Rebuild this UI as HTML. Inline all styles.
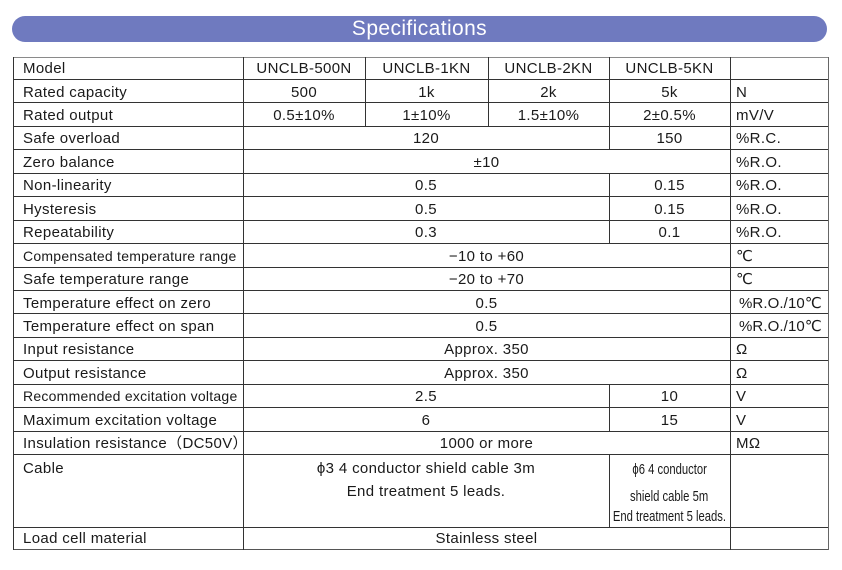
<!DOCTYPE html>
<html>
<head>
<meta charset="utf-8">
<style>
html,body{margin:0;padding:0;background:#fff;}
body{width:842px;height:570px;position:relative;overflow:hidden;font-family:"Liberation Sans","DejaVu Sans","Noto Sans CJK SC",sans-serif;color:#1a1a1a;}
.bar{position:absolute;left:12px;top:16px;width:815px;height:26px;border-radius:13px;background:#6f7abf;}
.bar span{position:absolute;left:0;right:0;top:0;height:26px;line-height:26px;text-align:center;color:#fff;font-size:21px;letter-spacing:0.4px;}
.h{position:absolute;left:13px;width:816px;height:1px;background:#333;}
.v{position:absolute;width:1px;background:#333;}
.t{position:absolute;font-size:15px;letter-spacing:0.35px;white-space:nowrap;}
.c{text-align:center;}
.lab{left:13px;width:220px;padding-left:10px;}
.unit{left:730px;width:92px;padding-left:6px;}
.c1{left:243px;width:122px;}
.c2{left:365px;width:123px;}
.c3{left:488px;width:121px;}
.c4{left:609px;width:121px;}
.c4w{left:559px;width:221px;}
.cA{left:243px;width:366px;}
.cW{left:243px;width:487px;}
.sm{font-size:14px;letter-spacing:0.25px;}
.nar{display:inline-block;transform:scaleX(0.75);transform-origin:center;letter-spacing:0;}
</style>
</head>
<body>
<div class="bar"><span>Specifications</span></div>

<!-- horizontal lines -->
<div class="h" style="top:57px;background:#8a8a8a;"></div>
<div class="h" style="top:79px"></div>
<div class="h" style="top:102px"></div>
<div class="h" style="top:126px"></div>
<div class="h" style="top:149px"></div>
<div class="h" style="top:173px"></div>
<div class="h" style="top:196px"></div>
<div class="h" style="top:220px"></div>
<div class="h" style="top:243px"></div>
<div class="h" style="top:267px"></div>
<div class="h" style="top:290px"></div>
<div class="h" style="top:313px"></div>
<div class="h" style="top:337px"></div>
<div class="h" style="top:360px"></div>
<div class="h" style="top:384px"></div>
<div class="h" style="top:407px"></div>
<div class="h" style="top:431px"></div>
<div class="h" style="top:454px"></div>
<div class="h" style="top:527px"></div>
<div class="h" style="top:549px;background:#555;"></div>

<!-- vertical lines -->
<div class="v" style="left:13px;top:57px;height:493px;"></div>
<div class="v" style="left:243px;top:57px;height:493px;"></div>
<div class="v" style="left:730px;top:57px;height:493px;"></div>
<div class="v" style="left:828px;top:57px;height:493px;background:#666;"></div>
<div class="v" style="left:365px;top:57px;height:70px;"></div>
<div class="v" style="left:488px;top:57px;height:70px;"></div>
<div class="v" style="left:609px;top:57px;height:93px;"></div>
<div class="v" style="left:609px;top:173px;height:71px;"></div>
<div class="v" style="left:609px;top:384px;height:48px;"></div>
<div class="v" style="left:609px;top:454px;height:74px;"></div>

<!-- Row 1 -->
<div class="t lab" style="top:58px;height:22px;line-height:22px;">Model</div>
<div class="t c c1" style="top:58px;height:22px;line-height:22px;">UNCLB-500N</div>
<div class="t c c2" style="top:58px;height:22px;line-height:22px;">UNCLB-1KN</div>
<div class="t c c3" style="top:58px;height:22px;line-height:22px;">UNCLB-2KN</div>
<div class="t c c4" style="top:58px;height:22px;line-height:22px;">UNCLB-5KN</div>

<!-- Row 2 -->
<div class="t lab" style="top:80.5px;height:23px;line-height:23px;">Rated capacity</div>
<div class="t c c1" style="top:80.5px;height:23px;line-height:23px;">500</div>
<div class="t c c2" style="top:80.5px;height:23px;line-height:23px;">1k</div>
<div class="t c c3" style="top:80.5px;height:23px;line-height:23px;">2k</div>
<div class="t c c4" style="top:80.5px;height:23px;line-height:23px;">5k</div>
<div class="t unit" style="top:80.5px;height:23px;line-height:23px;">N</div>

<!-- Row 3 -->
<div class="t lab" style="top:104px;height:23px;line-height:23px;">Rated output</div>
<div class="t c c1" style="top:104px;height:23px;line-height:23px;">0.5±10%</div>
<div class="t c c2" style="top:104px;height:23px;line-height:23px;">1±10%</div>
<div class="t c c3" style="top:104px;height:23px;line-height:23px;">1.5±10%</div>
<div class="t c c4" style="top:104px;height:23px;line-height:23px;">2±0.5%</div>
<div class="t unit" style="top:104px;height:23px;line-height:23px;">mV/V</div>

<!-- Row 4 -->
<div class="t lab" style="top:127.4px;height:23px;line-height:23px;">Safe overload</div>
<div class="t c cA" style="top:127.4px;height:23px;line-height:23px;">120</div>
<div class="t c c4" style="top:127.4px;height:23px;line-height:23px;">150</div>
<div class="t unit" style="top:127.4px;height:23px;line-height:23px;">%R.C.</div>

<!-- Row 5 -->
<div class="t lab" style="top:150.8px;height:23px;line-height:23px;">Zero balance</div>
<div class="t c cW" style="top:150.8px;height:23px;line-height:23px;">±10</div>
<div class="t unit" style="top:150.8px;height:23px;line-height:23px;">%R.O.</div>

<!-- Row 6 -->
<div class="t lab" style="top:174.3px;height:23px;line-height:23px;">Non-linearity</div>
<div class="t c cA" style="top:174.3px;height:23px;line-height:23px;">0.5</div>
<div class="t c c4" style="top:174.3px;height:23px;line-height:23px;">0.15</div>
<div class="t unit" style="top:174.3px;height:23px;line-height:23px;">%R.O.</div>

<!-- Row 7 -->
<div class="t lab" style="top:197.7px;height:23px;line-height:23px;">Hysteresis</div>
<div class="t c cA" style="top:197.7px;height:23px;line-height:23px;">0.5</div>
<div class="t c c4" style="top:197.7px;height:23px;line-height:23px;">0.15</div>
<div class="t unit" style="top:197.7px;height:23px;line-height:23px;">%R.O.</div>

<!-- Row 8 -->
<div class="t lab" style="top:221.1px;height:23px;line-height:23px;">Repeatability</div>
<div class="t c cA" style="top:221.1px;height:23px;line-height:23px;">0.3</div>
<div class="t c c4" style="top:221.1px;height:23px;line-height:23px;">0.1</div>
<div class="t unit" style="top:221.1px;height:23px;line-height:23px;">%R.O.</div>

<!-- Row 9 -->
<div class="t lab sm" style="top:244.6px;height:23px;line-height:23px;">Compensated temperature range</div>
<div class="t c cW" style="top:244.6px;height:23px;line-height:23px;">−10 to +60</div>
<div class="t unit" style="top:244.6px;height:23px;line-height:23px;">℃</div>

<!-- Row 10 -->
<div class="t lab" style="top:268px;height:23px;line-height:23px;">Safe temperature range</div>
<div class="t c cW" style="top:268px;height:23px;line-height:23px;">−20 to +70</div>
<div class="t unit" style="top:268px;height:23px;line-height:23px;">℃</div>

<!-- Row 11 -->
<div class="t lab" style="top:291.5px;height:23px;line-height:23px;">Temperature effect on zero</div>
<div class="t c cW" style="top:291.5px;height:23px;line-height:23px;">0.5</div>
<div class="t unit" style="top:291.5px;height:23px;line-height:23px;padding-left:9px;width:89px;letter-spacing:0.1px;">%R.O./10℃</div>

<!-- Row 12 -->
<div class="t lab" style="top:314.9px;height:23px;line-height:23px;">Temperature effect on span</div>
<div class="t c cW" style="top:314.9px;height:23px;line-height:23px;">0.5</div>
<div class="t unit" style="top:314.9px;height:23px;line-height:23px;padding-left:9px;width:89px;letter-spacing:0.1px;">%R.O./10℃</div>

<!-- Row 13 -->
<div class="t lab" style="top:338.3px;height:23px;line-height:23px;">Input resistance</div>
<div class="t c cW" style="top:338.3px;height:23px;line-height:23px;">Approx. 350</div>
<div class="t unit" style="top:338.3px;height:23px;line-height:23px;">Ω</div>

<!-- Row 14 -->
<div class="t lab" style="top:361.8px;height:23px;line-height:23px;">Output resistance</div>
<div class="t c cW" style="top:361.8px;height:23px;line-height:23px;">Approx. 350</div>
<div class="t unit" style="top:361.8px;height:23px;line-height:23px;">Ω</div>

<!-- Row 15 -->
<div class="t lab sm" style="top:385.2px;height:23px;line-height:23px;">Recommended excitation voltage</div>
<div class="t c cA" style="top:385.2px;height:23px;line-height:23px;">2.5</div>
<div class="t c c4" style="top:385.2px;height:23px;line-height:23px;">10</div>
<div class="t unit" style="top:385.2px;height:23px;line-height:23px;">V</div>

<!-- Row 16 -->
<div class="t lab" style="top:408.7px;height:23px;line-height:23px;">Maximum excitation voltage</div>
<div class="t c cA" style="top:408.7px;height:23px;line-height:23px;">6</div>
<div class="t c c4" style="top:408.7px;height:23px;line-height:23px;">15</div>
<div class="t unit" style="top:408.7px;height:23px;line-height:23px;">V</div>

<!-- Row 17 -->
<div class="t lab" style="top:432.1px;height:23px;line-height:23px;">Insulation resistance（DC50V）</div>
<div class="t c cW" style="top:432.1px;height:23px;line-height:23px;">1000 or more</div>
<div class="t unit" style="top:432.1px;height:23px;line-height:23px;">MΩ</div>

<!-- Cable row -->
<div class="t lab" style="top:456.8px;height:23px;line-height:23px;">Cable</div>
<div class="t c cA" style="top:456.8px;height:23px;line-height:23px;">ϕ3 4 conductor shield cable 3m</div>
<div class="t c cA" style="top:479.8px;height:23px;line-height:23px;">End treatment 5 leads.</div>
<div class="t c c4w" style="top:459.8px;height:20px;line-height:20px;"><span class="nar">ϕ6 4 conductor</span></div>
<div class="t c c4w" style="top:487.3px;height:20px;line-height:20px;"><span class="nar">shield cable 5m</span></div>
<div class="t c c4w" style="top:507.3px;height:20px;line-height:20px;"><span class="nar">End treatment 5 leads.</span></div>

<!-- Load cell material -->
<div class="t lab" style="top:528px;height:22px;line-height:22px;">Load cell material</div>
<div class="t c cW" style="top:528px;height:22px;line-height:22px;">Stainless steel</div>
</body>
</html>
